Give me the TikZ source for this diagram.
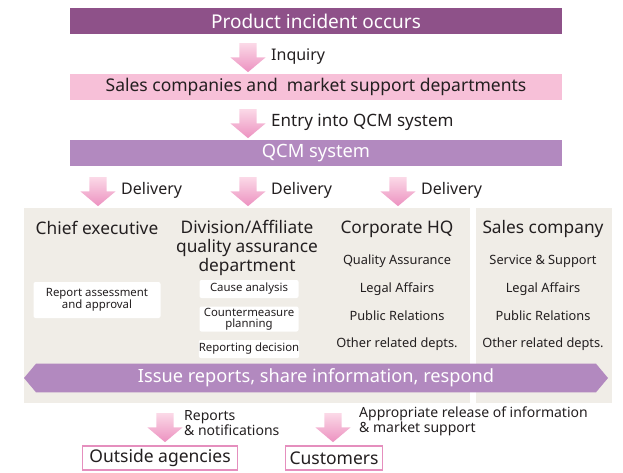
\documentclass[tikz,border=0pt]{standalone}
\usepackage{fontspec}
\setmainfont{Noto Sans}
\usetikzlibrary{shapes.arrows}

\definecolor{darkpurple}{HTML}{8E5189}
\definecolor{lightpink}{HTML}{F7C0D8}
\definecolor{qcmpurple}{HTML}{B289BF}
\definecolor{panelgray}{HTML}{F0EDE7}
\definecolor{boxpink}{HTML}{E58FBE}
\definecolor{arrowtop}{HTML}{FBD9E7}
\definecolor{arrowbot}{HTML}{EC91C0}
\definecolor{textgray}{HTML}{231F20}

\begin{document}
\begin{tikzpicture}[x=1pt,y=-1pt,
  every node/.append style={inner sep=0pt, text=textgray},
  bar/.style={minimum width=492pt, minimum height=26pt},
  downarrow/.style={single arrow, shape border rotate=270, inner sep=8.5pt,
    single arrow head extend=9pt, single arrow tip angle=100, minimum height=29pt,
    top color=arrowtop, bottom color=arrowbot, draw=none},
  arrowlabel/.style={anchor=base west, font=\fontsize{16}{18}\selectfont},
  colhead/.style={align=center, font=\fontsize{17.3}{19}\selectfont},
  item/.style={font=\fontsize{12.8}{14}\selectfont},
  whitebox/.style={fill=white, rounded corners=2pt, align=center, font=\fontsize{11.4}{10.5}\selectfont},
  outbox/.style={draw=boxpink, line width=1.3pt, fill=white, minimum height=24pt, font=\fontsize{17.5}{19}\selectfont}]
\useasboundingbox (0,0) rectangle (623,472);

% top of the flow
\node[bar, fill=darkpurple, text=white, font=\fontsize{19}{21}\selectfont] (incident) at (316,21) {Product incident occurs};
\node[downarrow] (arr1) at (248,54) {};
\node[arrowlabel] (inquiry) at (271,60) {Inquiry};
\node[bar, fill=lightpink, font=\fontsize{17.5}{19}\selectfont] (sales) at (316,87) {Sales companies and\ \ market support departments};
\node[downarrow] (arr2) at (248,120) {};
\node[arrowlabel, font=\fontsize{17}{19}\selectfont] (entry) at (271,126) {Entry into QCM system};
\node[bar, fill=qcmpurple, text=white, font=\fontsize{18.3}{20}\selectfont] (qcm) at (316,153) {QCM system};

% deliveries
\foreach \x/\n in {98/1,248/2,398/3}{
  \node[downarrow] (del\n) at (\x,188) {};
  \node[arrowlabel] (dellabel\n) at (\x+23,194) {Delivery};
}

% panels
\fill[panelgray] (24,208) rectangle (470,403);
\fill[panelgray] (476,208) rectangle (612,403);

% column heads
\node[colhead] (chief) at (97,228) {Chief executive};
\node[colhead, anchor=north] (division) at (247,220) {Division/Affiliate\\quality assurance\\department};
\node[colhead] (corphq) at (397,229) {Corporate HQ};
\node[colhead] (salesco) at (543,229) {Sales company};

% white boxes
\node[whitebox, minimum width=127pt, minimum height=36pt] (assess) at (97,300) {Report assessment\\and approval};
\node[whitebox, minimum width=99pt, minimum height=18pt] (cause) at (249,289) {Cause analysis};
\node[whitebox, minimum width=99pt, minimum height=25pt] (counter) at (249,319) {Countermeasure\\planning};
\node[whitebox, minimum width=99pt, minimum height=18pt] (decision) at (249,349) {Reporting decision};

% department lists
\node[item] (hq1) at (397,261) {Quality Assurance};
\node[item] (hq2) at (397,289) {Legal Affairs};
\node[item] (hq3) at (397,316) {Public Relations};
\node[item] (hq4) at (397,344) {Other related depts.};
\node[item] (sc1) at (543,261) {Service \& Support};
\node[item] (sc2) at (543,289) {Legal Affairs};
\node[item] (sc3) at (543,316) {Public Relations};
\node[item] (sc4) at (543,344) {Other related depts.};

% banner
\node[double arrow, fill=qcmpurple, text=white, minimum width=26pt, minimum height=584pt,
  double arrow head extend=0pt, double arrow tip angle=100, inner sep=5pt,
  font=\fontsize{18.2}{20}\selectfont] (issue) at (316,378) {Issue reports, share information, respond};

% bottom
\node[downarrow] (arr4) at (165,424) {};
\node[arrowlabel, align=left, anchor=west, font=\fontsize{14}{15}\selectfont] (reports) at (184,423) {Reports\\\& notifications};
\node[downarrow] (arr5) at (333,424) {};
\node[arrowlabel, align=left, anchor=west, font=\fontsize{14}{15}\selectfont] (release) at (359,421) {Appropriate release of information\\\& market support};
\node[outbox, minimum width=155pt] (outside) at (160,458) {Outside agencies};
\node[outbox, minimum width=97pt] (customers) at (334,458) {Customers};
\end{tikzpicture}
\end{document}
